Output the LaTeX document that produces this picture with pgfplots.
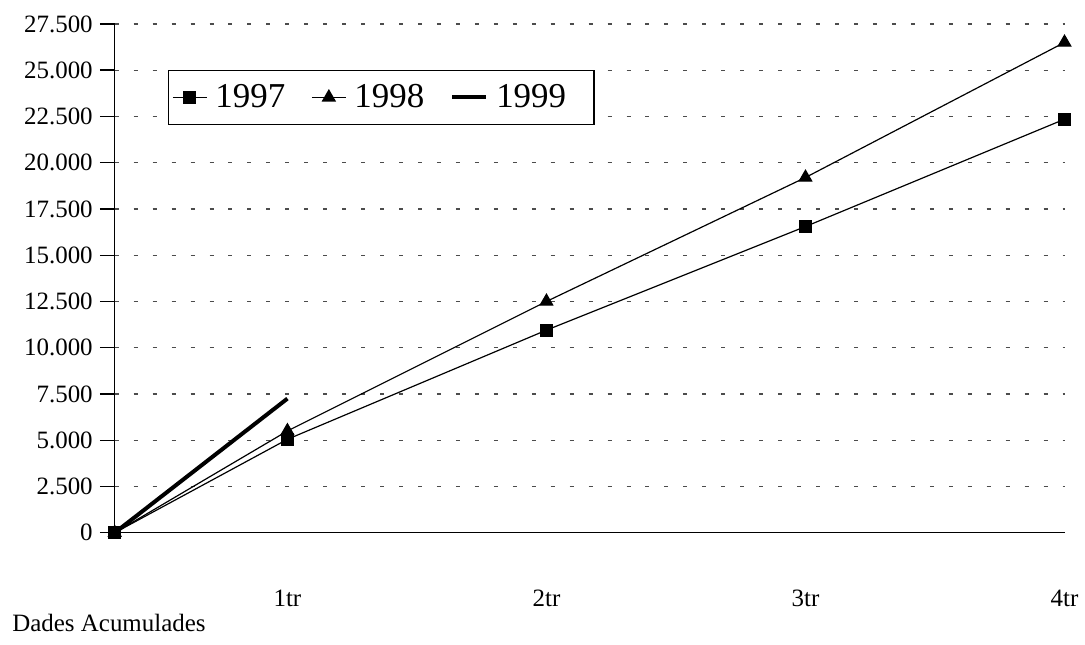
\documentclass[border=0pt]{standalone}
\usepackage{fontspec}
\setmainfont{Liberation Serif}
\usepackage{pgfplots}
\pgfplotsset{compat=1.18}
\begin{document}
\begin{tikzpicture}
\begin{axis}[
	scale only axis,
	width=476pt,height=255pt,
	xmin=0,xmax=11,ymin=0,ymax=27500,
	axis x line=bottom,axis y line=left,
	axis line style={-,line width=0.7pt},
	xtick={2,5,8,11},xticklabels={1tr,2tr,3tr,4tr},
	major x tick style={draw=none},
	xticklabel style={anchor=center,yshift=-25.5pt},
	ytick={0,2500,...,27500},
	scaled y ticks=false,
	tick align=outside,major tick length=7.5pt,
	major y tick style={line width=0.7pt,black},
	yticklabel style={anchor=east},
	ymajorgrids,
	major grid style={black!70,dash pattern=on 2pt off 7.5pt,line width=0.6pt},
	/pgf/number format/.cd,fixed,precision=0,1000 sep={.},assume math mode=true,
	/pgfplots/.cd,
	ticklabel style={font=\fontsize{12.5}{14}\selectfont},
	clip=false,
	legend columns=3,
	legend style={at={(axis description cs:0.0557,0.91)},anchor=north west,
		draw=black,line width=0.6pt,font=\fontsize{17.5}{20}\selectfont,
		inner xsep=2pt,inner ysep=5pt,
		/tikz/every odd column/.append style={column sep=2pt},
		/tikz/every even column/.append style={column sep=11pt}},
]
\addplot[black,line width=0.6pt,mark=square*,mark size=3pt] coordinates {
	(0,0) (2,5050) (5,10950) (8,16550) (11,22350)};
\addlegendentry{1997}
\addplot[black,line width=0.6pt,mark=triangle*,mark size=3.6pt] coordinates {
	(0,0) (2,5500) (5,12500) (8,19200) (11,26500)};
\addlegendentry{1998}
\addplot[black,line width=2pt,mark=none] coordinates {
	(0,0) (2,7250)};
\addlegendentry{1999\rule{10pt}{0pt}}
\end{axis}
\node[anchor=west,inner sep=0pt,font=\fontsize{12.5}{14}\selectfont] at (-51.5pt,-45pt) {Dades Acumulades};
\useasboundingbox (-57.5pt,-56pt) rectangle (485pt,267pt);
\end{tikzpicture}
\end{document}
